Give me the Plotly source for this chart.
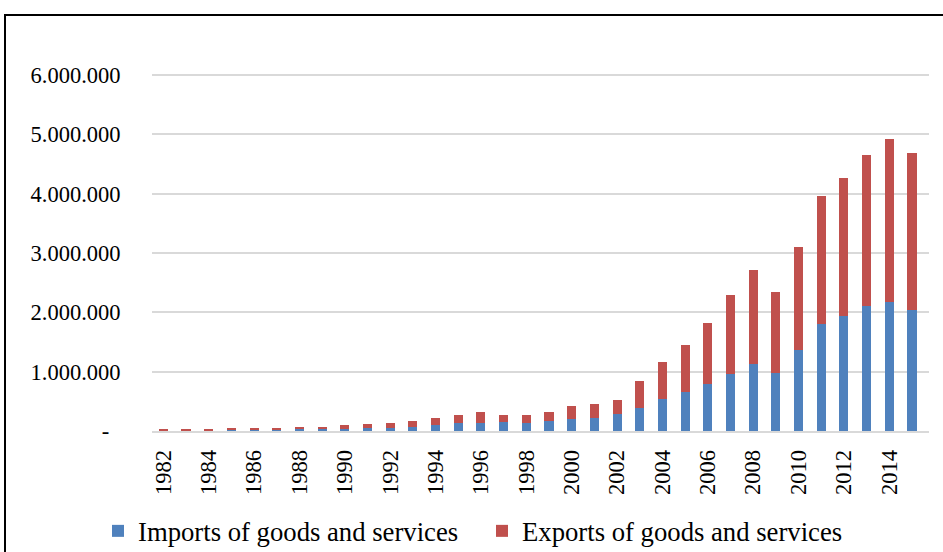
import plotly.graph_objects as go

years = [str(y) for y in range(1982, 2016)]
imports = [12000, 12000, 13000, 30000, 30000, 30000, 35000, 35000, 40000, 56000,
           56000, 60000, 100000, 130000, 130000, 147000, 130000, 163000, 202000, 225000,
           293000, 392000, 546000, 658000, 788000, 961000, 1137000, 985000, 1370000, 1800000,
           1934000, 2108000, 2170000, 2047000]
exports = [22000, 22000, 21000, 26000, 26000, 26000, 38000, 38000, 56000, 68000,
           85000, 103000, 124000, 145000, 185000, 128000, 145000, 152000, 225000, 225000,
           235000, 455000, 624000, 799000, 1034000, 1339000, 1583000, 1359000, 1730000, 2158000,
           2322000, 2542000, 2754000, 2641000]
y_ticks = [0, 1000000, 2000000, 3000000, 4000000, 5000000, 6000000]
y_labels = ["-\u00a0\u00a0", "1.000.000", "2.000.000", "3.000.000", "4.000.000", "5.000.000", "6.000.000"]
x_ticks = years[::2]

W, H = 943, 552
L, R, T, B = 152, 14, 72, 121
pw, ph = W - L - R, H - T - B

fig = go.Figure()
fig.add_trace(go.Bar(x=years, y=imports, name="Imports of goods and services",
                     marker=dict(color="#4F81BD", line_width=0)))
fig.add_trace(go.Bar(x=years, y=exports, name="Exports of goods and services",
                     marker=dict(color="#C0504D", line_width=0)))

def px_x(x):
    return (x - L) / pw

def px_y(y):
    return (H - B - y) / ph

fig.update_layout(
    width=W, height=H,
    margin=dict(l=L, r=R, t=T, b=B, pad=0, autoexpand=False),
    barmode="stack", bargap=0.6,
    paper_bgcolor="white", plot_bgcolor="white",
    font=dict(family="Liberation Serif", size=22.5, color="#000000"),
    showlegend=True,
    legend=dict(orientation="h", x=px_x(98), xanchor="left", y=px_y(531), yanchor="middle",
                font=dict(size=26.7), traceorder="normal", itemwidth=30,
                entrywidth=339, entrywidthmode="pixels"),
    xaxis=dict(type="category", range=[-0.5, 33.75], tickangle=-90, tickmode="array",
               tickvals=x_ticks, ticktext=x_ticks, showgrid=False, showline=True,
               linecolor="#D9D9D9", linewidth=2, ticks="outside", ticklen=8,
               tickcolor="rgba(0,0,0,0)"),
    yaxis=dict(range=[0, 6050000], tickmode="array", tickvals=y_ticks, ticktext=y_labels,
               showgrid=True, gridcolor="#D9D9D9", gridwidth=1.5, zeroline=False,
               showline=False, ticks="outside", ticklen=26, tickcolor="rgba(0,0,0,0)"),
    shapes=[dict(type="rect", xref="paper", yref="paper",
                 x0=px_x(5), x1=px_x(960), y0=px_y(570), y1=px_y(15),
                 line=dict(color="black", width=2), fillcolor="rgba(0,0,0,0)", layer="above")],
)

fig.write_html("out.html", config={"displayModeBar": False},
               post_script="document.body.style.margin='0';")
